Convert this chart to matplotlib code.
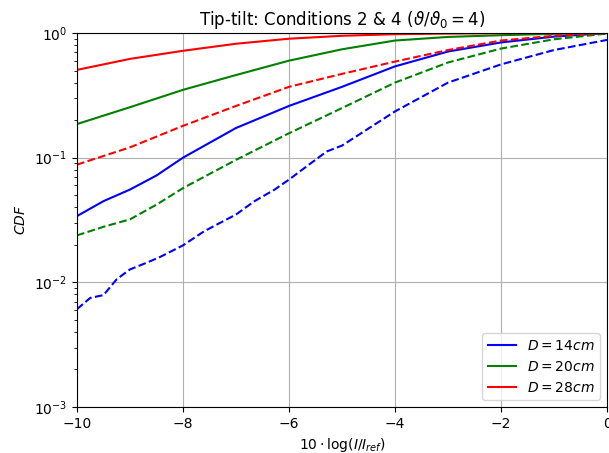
import matplotlib
matplotlib.use('Agg')
import matplotlib.pyplot as plt

# x values (10*log(I/Iref)) for the sampled curves
x = [-10, -9, -8, -7, -6, -5, -4, -3, -2, -1, 0]
x_fine = [-10, -9.5, -9, -8.5, -8, -7, -6, -5, -4, -3, -2, -1, 0]

# solid lines (condition 2)
cdf_14_solid = [0.034, 0.0448, 0.0555, 0.072, 0.10, 0.173, 0.26, 0.37, 0.54, 0.71, 0.84, 0.935, 1.0]
cdf_20_solid = [0.186, 0.254, 0.35, 0.46, 0.60, 0.74, 0.87, 0.93, 0.96, 0.985, 1.0]
cdf_28_solid = [0.506, 0.62, 0.72, 0.82, 0.90, 0.95, 0.978, 0.99, 0.996, 0.999, 1.0]

# dashed lines (condition 4)
cdf_20_dashed = [0.0238, 0.0279, 0.032, 0.042, 0.057, 0.096, 0.157, 0.25, 0.40, 0.58, 0.75, 0.89, 0.99]
cdf_28_dashed = [0.088, 0.121, 0.18, 0.26, 0.37, 0.47, 0.59, 0.73, 0.87, 0.95, 1.0]

x_14_dashed = [-10, -9.75, -9.5, -9.25, -9, -8.68, -8.43, -8, -7.6, -7.3, -7,
               -6.65, -6.27, -6, -5.67, -5.29, -5, -4, -3, -2, -1, 0]
cdf_14_dashed = [0.0061, 0.0075, 0.0079, 0.0106, 0.0127, 0.0144, 0.016, 0.0198,
                 0.0257, 0.030, 0.035, 0.0448, 0.0555, 0.0667, 0.085, 0.112,
                 0.125, 0.235, 0.40, 0.56, 0.73, 0.88]

labels = ['$D = 14cm$', '$D = 20cm$', '$D = 28cm$']
colors = ['blue', 'green', 'red']

fig = plt.figure(figsize=(6.09, 4.53), dpi=100)
ax = fig.add_axes([77 / 609, 1 - 407 / 453, 530 / 609, 374 / 453])

ax.semilogy(x_fine, cdf_14_solid, color=colors[0], label=labels[0])
ax.semilogy(x, cdf_20_solid, color=colors[1], label=labels[1])
ax.semilogy(x, cdf_28_solid, color=colors[2], label=labels[2])

ax.semilogy(x_14_dashed, cdf_14_dashed, '--', color=colors[0])
ax.semilogy(x_fine, cdf_20_dashed, '--', color=colors[1])
ax.semilogy(x, cdf_28_dashed, '--', color=colors[2])

ax.set_xlim(-10, 0)
ax.set_ylim(1e-3, 1)
ax.grid(True, which='major')
ax.set_xlabel(r'$10 \cdot \log(I/I_{ref})$')
ax.set_ylabel(r'$CDF$')
ax.set_title(r'Tip-tilt: Conditions 2 & 4 ($\vartheta/\vartheta_0 = 4$)')
ax.legend(loc='lower right')

fig.savefig('out.png', dpi=100)
